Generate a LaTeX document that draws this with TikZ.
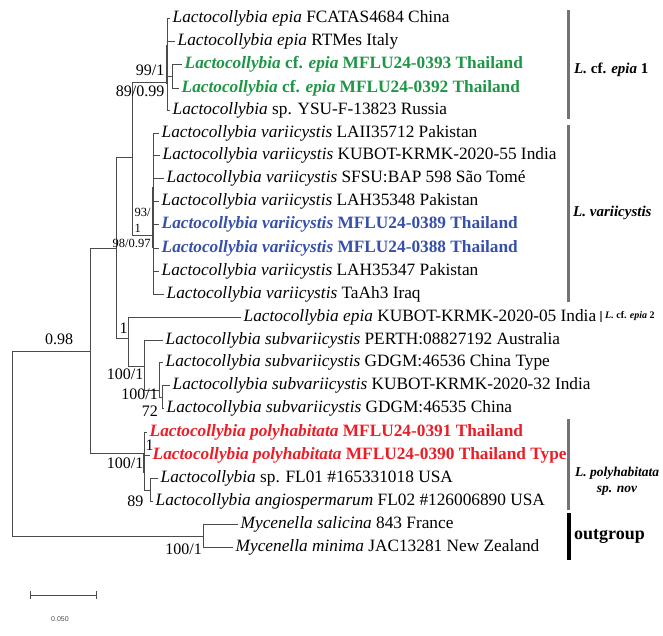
\documentclass[tikz,border=0pt]{standalone}
\usepackage{fontspec}
\setmainfont{Liberation Serif}
\setsansfont{Liberation Sans}
\usetikzlibrary{positioning,arrows.meta}
\definecolor{epiagreen}{RGB}{30,150,70}
\definecolor{varblue}{RGB}{55,80,170}
\definecolor{polyred}{RGB}{235,30,40}
\definecolor{treegray}{RGB}{75,75,75}
\definecolor{bargray}{RGB}{115,115,115}
\newcommand{\Lac}{\textit{Lactocollybia}}

\begin{document}
\begin{tikzpicture}[x=1pt,y=-1pt,
    branch/.style={draw=treegray,line width=1pt},
    tip/.style={anchor=west,inner sep=2.5pt,font=\fontsize{17.3}{20}\selectfont},
    supp/.style={inner sep=0pt,font=\fontsize{16}{18}\selectfont},
    suppsmall/.style={inner sep=0pt,font=\fontsize{12.5}{14}\selectfont},
    cladebar/.style={draw=bargray,line width=3pt},
    cladename/.style={anchor=west,inner sep=0pt,font=\fontsize{15}{17}\selectfont\bfseries}]
    \useasboundingbox (0,0) rectangle (663,635);
    \coordinate (nR) at (12,443.5);
    \coordinate (nI) at (90,351);
    \coordinate (nO) at (203,536);
    \coordinate (nA) at (116,248);
    \coordinate (nP) at (144,453);
    \coordinate (nB) at (132,157);
    \coordinate (nN) at (128,338);
    \coordinate (nE) at (167,82);
    \coordinate (nG) at (172,76);
    \coordinate (nV) at (153,235);
    \coordinate (nS) at (144,366);
    \coordinate (nSb) at (159,390);
    \coordinate (nSc) at (162,397);
    \coordinate (nQ) at (150,490);
    \node[tip] (t01) at (170,18) {\Lac\ \textit{epia} FCATAS4684 China};
    \node[tip] (t02) at (175,41) {\Lac\ \textit{epia} RTMes Italy};
    \node[tip,text=epiagreen] (t03) at (182,64) {\textbf{\Lac\ cf. \textit{epia} MFLU24-0393 Thailand}};
    \node[tip,text=epiagreen] (t04) at (179,88) {\textbf{\Lac\ cf. \textit{epia} MFLU24-0392 Thailand}};
    \node[tip] (t05) at (170,110) {\Lac\ sp. YSU-F-13823 Russia};
    \node[tip] (t06) at (159,133) {\Lac\ \textit{variicystis} LAII35712 Pakistan};
    \node[tip] (t07) at (160,155) {\Lac\ \textit{variicystis} KUBOT-KRMK-2020-55 India};
    \node[tip] (t08) at (164,178) {\Lac\ \textit{variicystis} SFSU:BAP 598 São Tomé};
    \node[tip] (t09) at (159,201) {\Lac\ \textit{variicystis} LAH35348 Pakistan};
    \node[tip,text=varblue] (t10) at (159,224) {\textbf{\Lac\ \textit{variicystis} MFLU24-0389 Thailand}};
    \node[tip,text=varblue] (t11) at (159,248) {\textbf{\Lac\ \textit{variicystis} MFLU24-0388 Thailand}};
    \node[tip] (t12) at (159,271) {\Lac\ \textit{variicystis} LAH35347 Pakistan};
    \node[tip] (t13) at (164,294) {\Lac\ \textit{variicystis} TaAh3 Iraq};
    \node[tip] (t14) at (241,317) {\Lac\ \textit{epia} KUBOT-KRMK-2020-05 India};
    \node[tip] (t15) at (163,340) {\Lac\ \textit{subvariicystis} PERTH:08827192 Australia};
    \node[tip] (t16) at (163,362) {\Lac\ \textit{subvariicystis} GDGM:46536 China Type};
    \node[tip] (t17) at (170,385) {\Lac\ \textit{subvariicystis} KUBOT-KRMK-2020-32 India};
    \node[tip] (t18) at (164,408) {\Lac\ \textit{subvariicystis} GDGM:46535 China};
    \node[tip,text=polyred] (t19) at (147,432) {\textbf{\Lac\ \textit{polyhabitata} MFLU24-0391 Thailand}};
    \node[tip,text=polyred] (t20) at (150,455) {\textbf{\Lac\ \textit{polyhabitata} MFLU24-0390 Thailand Type}};
    \node[tip] (t21) at (158,478) {\Lac\ sp. FL01 \#165331018 USA};
    \node[tip] (t22) at (153,501) {\Lac\ \textit{angiospermarum} FL02 \#126006890 USA};
    \node[tip] (t23) at (238,524) {\textit{Mycenella salicina} 843 France};
    \node[tip] (t24) at (233,547) {\textit{Mycenella minima} JAC13281 New Zealand};
    \draw[branch] (nR) |- (nI);
    \draw[branch] (nR) |- (nO);
    \draw[branch] (nI) |- (nA);
    \draw[branch] (nI) |- (nP);
    \draw[branch] (nA) |- (nB);
    \draw[branch] (nA) |- (nN);
    \draw[branch] (nB) |- (nE);
    \draw[branch] (nB) |- (nV);
    \draw[branch] (nE) |- (nG);
    \draw[branch] (nN) |- (nS);
    \draw[branch] (nS) |- (nSb);
    \draw[branch] (nSb) |- (nSc);
    \draw[branch] (nP) |- (nQ);
    \draw[branch] (nE) |- (t01.west);
    \draw[branch] (nE) |- (t02.west);
    \draw[branch] (nG) |- (t03.west);
    \draw[branch] (nG) |- (t04.west);
    \draw[branch] (nE) |- (t05.west);
    \draw[branch] (nV) |- (t06.west);
    \draw[branch] (nV) |- (t07.west);
    \draw[branch] (nV) |- (t08.west);
    \draw[branch] (nV) |- (t09.west);
    \draw[branch] (nV) |- (t10.west);
    \draw[branch] (nV) |- (t11.west);
    \draw[branch] (nV) |- (t12.west);
    \draw[branch] (nV) |- (t13.west);
    \draw[branch] (nN) |- (t14.west);
    \draw[branch] (nS) |- (t15.west);
    \draw[branch] (nSb) |- (t16.west);
    \draw[branch] (nSc) |- (t17.west);
    \draw[branch] (nSc) |- (t18.west);
    \draw[branch] (nP) |- (t19.west);
    \draw[branch] (nP) |- (t20.west);
    \draw[branch] (nQ) |- (t21.west);
    \draw[branch] (nQ) |- (t22.west);
    \draw[branch] (nO) |- (t23.west);
    \draw[branch] (nO) |- (t24.west);
    \coordinate (eTop) at (167.3,45);
    \coordinate (eBot) at (167.3,84);
    \coordinate (vTop) at (153.3,187);
    \coordinate (vBot) at (153.3,248);
    \coordinate (pTop) at (144.3,453);
    \coordinate (pBot) at (144.3,473);
    \draw[branch,line width=2pt] (eTop) -- (eBot);
    \draw[branch,line width=2pt] (vTop) -- (vBot);
    \draw[branch,line width=2pt] (pTop) -- (pBot);
    \node[supp,anchor=east] (s99) at (164.5,70) {99/1};
    \node[supp,anchor=east] (s89) at (164.5,91) {89/0.99};
    \node[suppsmall,anchor=west] (s93) at (134.5,212) {93/};
    \node[suppsmall,anchor=west] (s93b) at (134.5,228) {1};
    \node[suppsmall,anchor=west] (s98) at (112.5,243) {98/0.97};
    \node[supp] (s098) at (59,339) {0.98};
    \node[supp] (sN) at (123.5,328) {1};
    \node[supp,anchor=east] (sS) at (143.5,374) {100/1};
    \node[supp,anchor=east] (sSb) at (158,394) {100/1};
    \node[supp,anchor=east] (sSc) at (158,411) {72};
    \node[supp,anchor=west] (sPa) at (145.5,445) {1};
    \node[supp,anchor=east] (sP) at (143.5,463) {100/1};
    \node[supp,anchor=east] (sQ) at (143.5,501) {89};
    \node[supp,anchor=east] (sO) at (202,549) {100/1};
    \coordinate (c1a) at (568,10);
    \coordinate (c1b) at (568,119);
    \coordinate (c2a) at (568,125);
    \coordinate (c2b) at (568,302);
    \coordinate (c3a) at (601,311);
    \coordinate (c3b) at (601,322);
    \coordinate (c4a) at (568,419);
    \coordinate (c4b) at (568,510);
    \coordinate (c5a) at (569,513);
    \coordinate (c5b) at (569,560);
    \draw[cladebar] (c1a) -- (c1b);
    \draw[cladebar] (c2a) -- (c2b);
    \draw[cladebar,line width=2.5pt] (c3a) -- (c3b);
    \draw[cladebar] (c4a) -- (c4b);
    \draw[draw=black,line width=4pt] (c5a) -- (c5b);
    \node[cladename] (cl1) at (574,70) {\textit{L.} cf. \textit{epia} 1};
    \node[cladename] (cl2) at (573,213) {\textit{L. variicystis}};
    \node[cladename,font=\fontsize{10}{12}\selectfont\bfseries] (cl3) at (605,316) {\textit{L.} cf. \textit{epia} 2};
    \node[cladename,anchor=center,align=center,font=\fontsize{13.5}{16}\selectfont\bfseries\itshape] (cl4) at (617,481) {L. polyhabitata\\sp. nov};
    \node[cladename,font=\fontsize{18}{20}\selectfont\bfseries] (cl5) at (574,536) {outgroup};
    \coordinate (sbL) at (30,595);
    \coordinate (sbR) at (97,595);
    \draw[treegray,line width=1pt,{Bar[width=8pt]}-{Bar[width=8pt]}] (sbL) -- (sbR);
    \node[inner sep=0pt,font=\sffamily\fontsize{7}{8}\selectfont,text=treegray] (sbt) at (60,619) {0.050};
\end{tikzpicture}
\end{document}
